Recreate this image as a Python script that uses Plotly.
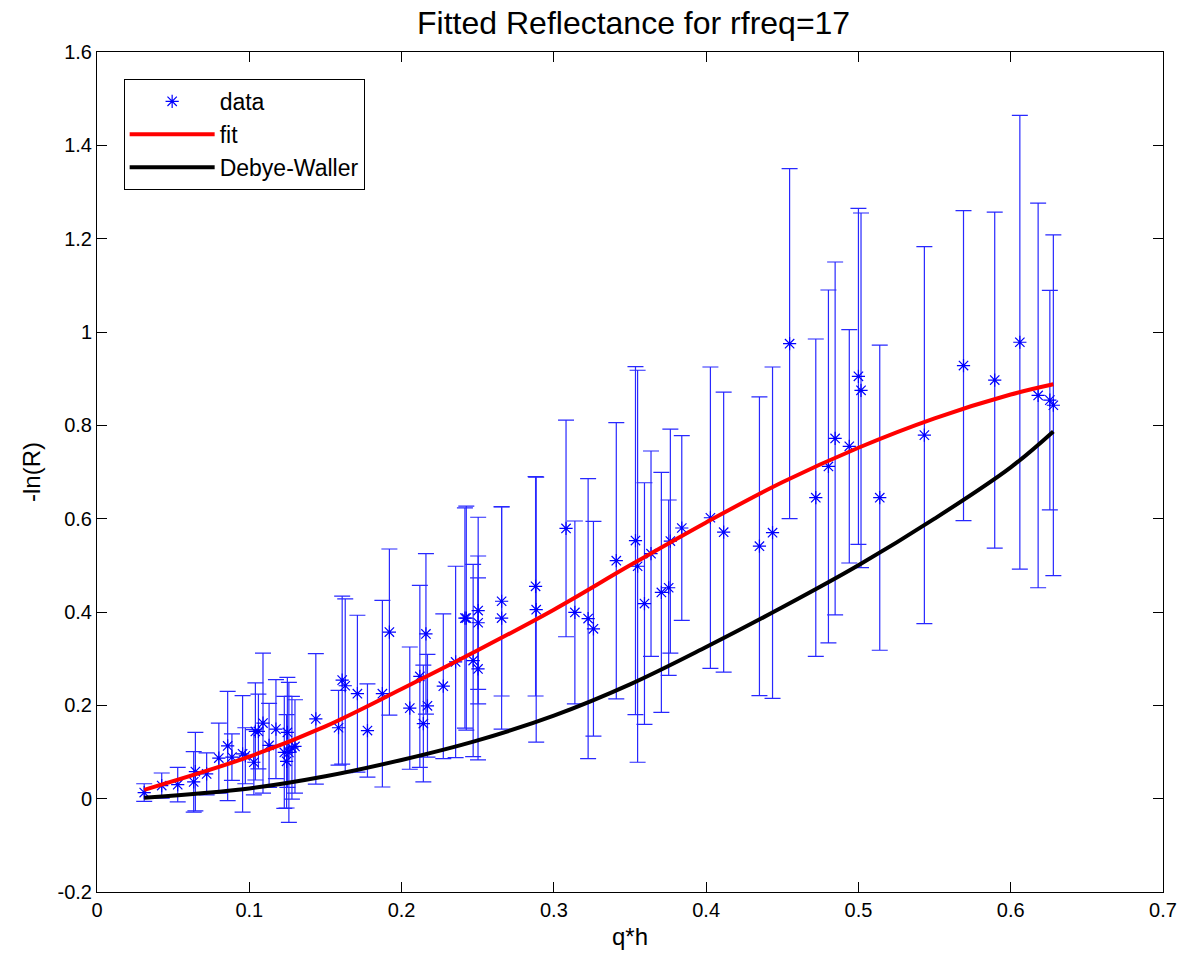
import plotly.graph_objects as go

# measured data (q*h, -ln(R), error half-width)
qh = [0.031, 0.0425, 0.053, 0.0635, 0.0646, 0.072, 0.080, 0.0858, 0.0886, 0.0956,
      0.0974, 0.103, 0.104, 0.106, 0.109, 0.113, 0.1175, 0.123, 0.125, 0.1245,
      0.126, 0.128, 0.130, 0.1437, 0.1586, 0.161, 0.163, 0.171, 0.1776, 0.1874,
      0.192, 0.2054, 0.212, 0.2143, 0.216, 0.217, 0.2274, 0.2355, 0.2416, 0.2425,
      0.247, 0.2503, 0.2503, 0.2502, 0.2657, 0.2657, 0.288, 0.2884, 0.308, 0.3138,
      0.3225, 0.326, 0.341, 0.3536, 0.355, 0.3595, 0.3638, 0.3706, 0.3754, 0.3765,
      0.384, 0.4028, 0.4115, 0.435, 0.4436, 0.4548, 0.472, 0.4803, 0.4847, 0.494,
      0.500, 0.5017, 0.514, 0.5433, 0.569, 0.5895, 0.606, 0.618, 0.6257, 0.628]
lnR = [0.013, 0.028, 0.03, 0.036, 0.058, 0.053, 0.087, 0.113, 0.089, 0.096,
       0.092, 0.078, 0.144, 0.144, 0.162, 0.114, 0.149, 0.099, 0.142, 0.08,
       0.099, 0.109, 0.112, 0.171, 0.152, 0.254, 0.242, 0.225, 0.146, 0.225,
       0.357, 0.194, 0.262, 0.161, 0.353, 0.199, 0.241, 0.293, 0.387, 0.387,
       0.296, 0.403, 0.377, 0.278, 0.423, 0.387, 0.455, 0.405, 0.579, 0.399,
       0.386, 0.364, 0.51, 0.553, 0.498, 0.418, 0.525, 0.442, 0.452, 0.552,
       0.58, 0.602, 0.571, 0.541, 0.57, 0.975, 0.645, 0.712, 0.772, 0.755,
       0.905, 0.875, 0.645, 0.779, 0.928, 0.897, 0.978, 0.864, 0.854, 0.843]
err = [0.019, 0.027, 0.037, 0.065, 0.084, 0.045, 0.075, 0.117, 0.05, 0.125,
       0.06, 0.07, 0.104, 0.08, 0.15, 0.09, 0.106, 0.12, 0.118, 0.1,
       0.15, 0.11, 0.1, 0.14, 0.08, 0.18, 0.186, 0.168, 0.1, 0.2,
       0.178, 0.131, 0.195, 0.125, 0.172, 0.11, 0.155, 0.205, 0.236, 0.24,
       0.206, 0.2, 0.143, 0.195, 0.203, 0.238, 0.235, 0.284, 0.232, 0.196,
       0.3, 0.23, 0.296, 0.373, 0.42, 0.259, 0.22, 0.257, 0.188, 0.24,
       0.198, 0.323, 0.3, 0.32, 0.355, 0.375, 0.34, 0.378, 0.378, 0.25,
       0.36, 0.38, 0.327, 0.404, 0.332, 0.36, 0.486, 0.412, 0.235, 0.365]

# fitted curve
fit_x = [0.031, 0.1, 0.15, 0.2, 0.25, 0.3, 0.35, 0.4, 0.45, 0.5, 0.55, 0.6, 0.628]
fit_y = [0.019, 0.09, 0.155, 0.235, 0.318, 0.405, 0.5, 0.592, 0.678, 0.752, 0.815, 0.866, 0.888]

# Debye-Waller curve
dw_x = [0.031, 0.1, 0.15, 0.2, 0.25, 0.3, 0.35, 0.4, 0.45, 0.5, 0.55, 0.6, 0.628]
dw_y = [0.002, 0.022, 0.048, 0.083, 0.125, 0.178, 0.245, 0.325, 0.41, 0.5, 0.6, 0.71, 0.787]

x_ticks = [0, 0.1, 0.2, 0.3, 0.4, 0.5, 0.6, 0.7]
x_ticktext = ["0", "0.1", "0.2", "0.3", "0.4", "0.5", "0.6", "0.7"]
y_ticks = [-0.2, 0, 0.2, 0.4, 0.6, 0.8, 1.0, 1.2, 1.4, 1.6]
y_ticktext = ["-0.2", "0", "0.2", "0.4", "0.6", "0.8", "1", "1.2", "1.4", "1.6"]

FONT = "Liberation Sans, Arial, sans-serif"

fig = go.Figure()
fig.add_trace(go.Scatter(
    x=qh, y=lnR, mode="markers", name="data",
    marker=dict(symbol="asterisk-open", size=11, color="blue",
                line=dict(color="blue", width=1.2)),
    error_y=dict(type="data", array=err, visible=True, color="rgb(40,40,255)",
                 thickness=1.2, width=8),
))
fig.add_trace(go.Scatter(
    x=fit_x, y=fit_y, mode="lines", name="fit",
    line=dict(color="red", width=4, shape="spline"),
))
fig.add_trace(go.Scatter(
    x=dw_x, y=dw_y, mode="lines", name="Debye-Waller",
    line=dict(color="black", width=4, shape="spline"),
))

axis_common = dict(
    showline=True, linecolor="black", linewidth=1, mirror="ticks",
    ticks="inside", ticklen=10, tickcolor="black", tickwidth=1,
    showgrid=False, zeroline=False,
    tickfont=dict(family=FONT, size=20, color="black"),
)

fig.update_layout(
    width=1191, height=966,
    paper_bgcolor="white", plot_bgcolor="white",
    margin=dict(l=97, r=28, t=52, b=74),
    title=dict(text="Fitted Reflectance for rfreq=17", x=0.532, xanchor="center",
               y=0.976, yanchor="middle", yref="container",
               font=dict(family=FONT, size=32, color="black")),
    xaxis=dict(range=[0, 0.7], tickvals=x_ticks, ticktext=x_ticktext,
               title=dict(text="q*h", font=dict(family=FONT, size=24, color="black"), standoff=8),
               **axis_common),
    yaxis=dict(range=[-0.2, 1.6], tickvals=y_ticks, ticktext=y_ticktext,
               title=dict(text="-ln(R)", font=dict(family=FONT, size=24, color="black"), standoff=10),
               **axis_common),
    legend=dict(x=0.025, y=0.968, xanchor="left", yanchor="top",
                bgcolor="white", bordercolor="black", borderwidth=1,
                font=dict(family=FONT, size=23, color="black"),
                itemwidth=85),
    showlegend=True,
)

fig.write_html("out.html")
